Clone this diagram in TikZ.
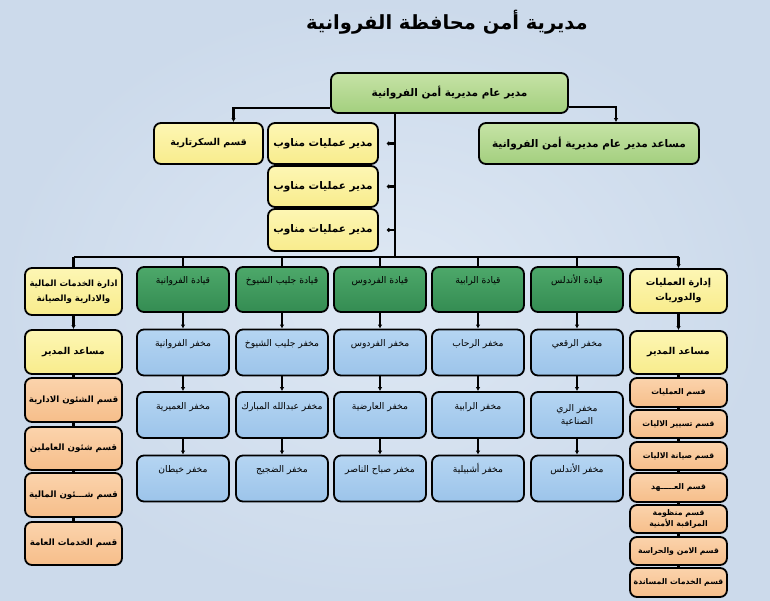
\documentclass[tikz,border=0pt]{standalone}
\usepackage{fontspec}
\newfontfamily\arfont[Script=Arabic]{DejaVu Sans}
\TeXXeTstate=1
\usetikzlibrary{arrows.meta}
\newcommand{\AR}[1]{\beginR #1\endR}
\definecolor{bgin}{HTML}{DEE8F4}
\definecolor{bgout}{HTML}{CCDAEB}
\definecolor{lgreenT}{HTML}{C6E3A6}
\definecolor{lgreenB}{HTML}{A3CF7E}
\definecolor{dgreenT}{HTML}{4DA86A}
\definecolor{dgreenB}{HTML}{348C52}
\definecolor{yelT}{HTML}{FDF6B4}
\definecolor{yelB}{HTML}{F8EC8C}
\definecolor{bluT}{HTML}{B5D5F2}
\definecolor{bluB}{HTML}{9CC4EA}
\definecolor{orgT}{HTML}{FBD3AC}
\definecolor{orgB}{HTML}{F6BE8A}
\tikzset{
  box/.style={draw=black, line width=1.8pt, rounded corners=7pt, inner sep=0pt,
    align=center, text=black},
  bigbox/.style={box, top color=lgreenT, bottom color=lgreenB,
    font=\arfont\bfseries\fontsize{10.5}{13}\selectfont},
  ybox/.style={box, top color=yelT, bottom color=yelB,
    font=\arfont\bfseries\fontsize{9.5}{15}\selectfont},
  dbox/.style={ybox, minimum width=110pt, font=\arfont\bfseries\fontsize{10.5}{13}\selectfont},
  obox/.style={box, top color=orgT, bottom color=orgB,
    font=\arfont\bfseries\fontsize{8.7}{13}\selectfont},
  rbox/.style={obox, minimum width=97pt, font=\arfont\bfseries\fontsize{7.8}{11}\selectfont},
  gbox/.style={box, top color=dgreenT, bottom color=dgreenB, minimum width=92pt,
    minimum height=45pt, text height=11pt, text depth=23pt,
    font=\arfont\fontsize{9.2}{11}\selectfont},
  bbox/.style={box, top color=bluT, bottom color=bluB, minimum width=92pt,
    minimum height=46pt, text height=11pt, text depth=23pt,
    font=\arfont\fontsize{9.2}{11}\selectfont},
  bbox2/.style={box, top color=bluT, bottom color=bluB, minimum width=92pt,
    minimum height=46pt, font=\arfont\fontsize{9.2}{13}\selectfont},
  conn/.style={draw=black, line width=2.2pt},
  arr/.style={conn, -{Latex[length=4pt,width=4.5pt]}},
}
\begin{document}
\begin{tikzpicture}[x=1pt,y=-1pt]
\shade[inner color=bgin, outer color=bgout] (0,0) rectangle (770,600);
\useasboundingbox (0,0) rectangle (770,600);

% title
\node[font=\arfont\bfseries\fontsize{19.5}{22}\selectfont, text=black] (title) at (447,22) {\AR{مديرية أمن محافظة الفروانية}};

% top level
\node[bigbox, minimum width=237pt, minimum height=40pt] (top) at (449.5,93) {\AR{مدير عام مديرية أمن الفروانية}};
\node[bigbox, minimum width=220pt, minimum height=41pt] (asst) at (589,143.5) {\AR{مساعد مدير عام مديرية أمن الفروانية}};
\node[ybox, minimum width=109pt, minimum height=41pt] (sec) at (208.5,143.5) {\AR{قسم السكرتارية}};
\node[dbox, minimum height=41pt] (duty1) at (323,143.5) {\AR{مدير عمليات مناوب}};
\node[dbox, minimum height=41pt] (duty2) at (323,186.5) {\AR{مدير عمليات مناوب}};
\node[dbox, minimum height=42pt] (duty3) at (323,230) {\AR{مدير عمليات مناوب}};

\coordinate (bus) at (395,257);

% second level
\node[ybox, minimum width=97pt, minimum height=47pt, font=\arfont\bfseries\fontsize{8.6}{15}\selectfont] (admin) at (73.5,291.5) {\AR{ادارة الخدمات المالية}\\\AR{والادارية والصيانة}};
\node[ybox, minimum width=97pt, minimum height=44pt] (ops) at (678.5,291) {\AR{إدارة العمليات}\\\AR{والدوريات}};
\node[gbox] (g1) at (183,289.5) {\AR{قيادة الفروانية}};
\node[gbox] (g2) at (282,289.5) {\AR{قيادة جليب الشيوخ}};
\node[gbox] (g3) at (380,289.5) {\AR{قيادة الفردوس}};
\node[gbox] (g4) at (478,289.5) {\AR{قيادة الرابية}};
\node[gbox] (g5) at (577,289.5) {\AR{قيادة الأندلس}};

% stations
\node[bbox] (b11) at (183,352.5) {\AR{مخفر الفروانية}};
\node[bbox] (b21) at (282,352.5) {\AR{مخفر جليب الشيوخ}};
\node[bbox] (b31) at (380,352.5) {\AR{مخفر الفردوس}};
\node[bbox] (b41) at (478,352.5) {\AR{مخفر الرحاب}};
\node[bbox] (b51) at (577,352.5) {\AR{مخفر الرقعي}};
\node[bbox] (b12) at (183,415) {\AR{مخفر العميرية}};
\node[bbox] (b22) at (282,415) {\AR{مخفر عبدالله المبارك}};
\node[bbox] (b32) at (380,415) {\AR{مخفر العارضية}};
\node[bbox] (b42) at (478,415) {\AR{مخفر الرابية}};
\node[bbox2] (b52) at (577,415) {\AR{مخفر الري}\\\AR{الصناعية}};
\node[bbox] (b13) at (183,478.5) {\AR{مخفر خيطان}};
\node[bbox] (b23) at (282,478.5) {\AR{مخفر الضجيج}};
\node[bbox] (b33) at (380,478.5) {\AR{مخفر صباح الناصر}};
\node[bbox] (b43) at (478,478.5) {\AR{مخفر أشبيلية}};
\node[bbox] (b53) at (577,478.5) {\AR{مخفر الأندلس}};

% left column
\node[ybox, minimum width=97pt, minimum height=44pt] (lasst) at (73.5,352) {\AR{مساعد المدير}};
\node[obox, minimum width=97pt, minimum height=44pt] (lo1) at (73.5,400) {\AR{قسم الشئون الادارية}};
\node[obox, minimum width=97pt, minimum height=43pt] (lo2) at (73.5,448.5) {\AR{قسم شئون العاملين}};
\node[obox, minimum width=97pt, minimum height=44pt] (lo3) at (73.5,495) {\AR{قسم شـــئون المالية}};
\node[obox, minimum width=97pt, minimum height=43pt] (lo4) at (73.5,543.5) {\AR{قسم الخدمات العامة}};

% right column
\node[ybox, minimum width=97pt, minimum height=43pt] (rasst) at (678.5,352.5) {\AR{مساعد المدير}};
\node[rbox, minimum height=29pt] (ro1) at (678.5,392.5) {\AR{قسم العمليات}};
\node[rbox, minimum height=28pt] (ro2) at (678.5,424) {\AR{قسم تسيير الاليات}};
\node[rbox, minimum height=28pt] (ro3) at (678.5,456) {\AR{قسم صيانة الاليات}};
\node[rbox, minimum height=29pt] (ro4) at (678.5,487.5) {\AR{قسم العـــــهد}};
\node[rbox, minimum height=28pt, font=\arfont\bfseries\fontsize{7.8}{10.5}\selectfont] (ro5) at (678.5,519) {\AR{قسم منظومة}\\\AR{المراقبة الأمنية}};
\node[rbox, minimum height=28pt] (ro6) at (678.5,551) {\AR{قسم الامن والحراسة}};
\node[rbox, minimum height=29pt] (ro7) at (678.5,582.5) {\AR{قسم الخدمات المساندة}};

% connectors top
\draw[conn] (top.south -| bus) -- (bus);
\draw[arr] ([yshift=-15pt]top.west) -| ([xshift=25pt]sec.north);
\draw[arr] ([yshift=-14pt]top.east) -| ([xshift=27pt]asst.north);
\foreach \d in {duty1,duty2,duty3}
  \draw[conn, -{Circle[length=3.5pt]}] (bus |- \d.east) -- ([xshift=8pt]\d.east);

% bus
\draw[conn] (admin.north |- bus) -- (ops.north |- bus);
\draw[conn] (admin.north |- bus) -- (admin.north);
\draw[arr] (ops.north |- bus) -- (ops.north);
\foreach \g in {g1,g2,g3,g4,g5}
  \draw[conn] (\g.north |- bus) -- (\g.north);

% columns of stations
\foreach \c in {1,2,3,4,5}{
  \draw[arr] (g\c.south) -- (b\c1.north);
  \draw[arr] (b\c1.south) -- (b\c2.north);
  \draw[arr] (b\c2.south) -- (b\c3.north);
}

% side columns
\draw[arr] (admin.south) -- (lasst.north);
\draw[conn] (lasst.south) -- (lo1.north);
\draw[conn] (lo1.south) -- (lo2.north);
\draw[conn] (lo2.south) -- (lo3.north);
\draw[conn] (lo3.south) -- (lo4.north);
\draw[arr] (ops.south) -- (rasst.north);
\draw[conn] (rasst.south) -- (ro1.north);
\draw[conn] (ro1.south) -- (ro2.north);
\draw[conn] (ro2.south) -- (ro3.north);
\draw[conn] (ro3.south) -- (ro4.north);
\draw[conn] (ro4.south) -- (ro5.north);
\draw[conn] (ro5.south) -- (ro6.north);
\draw[conn] (ro6.south) -- (ro7.north);
\end{tikzpicture}
\end{document}
